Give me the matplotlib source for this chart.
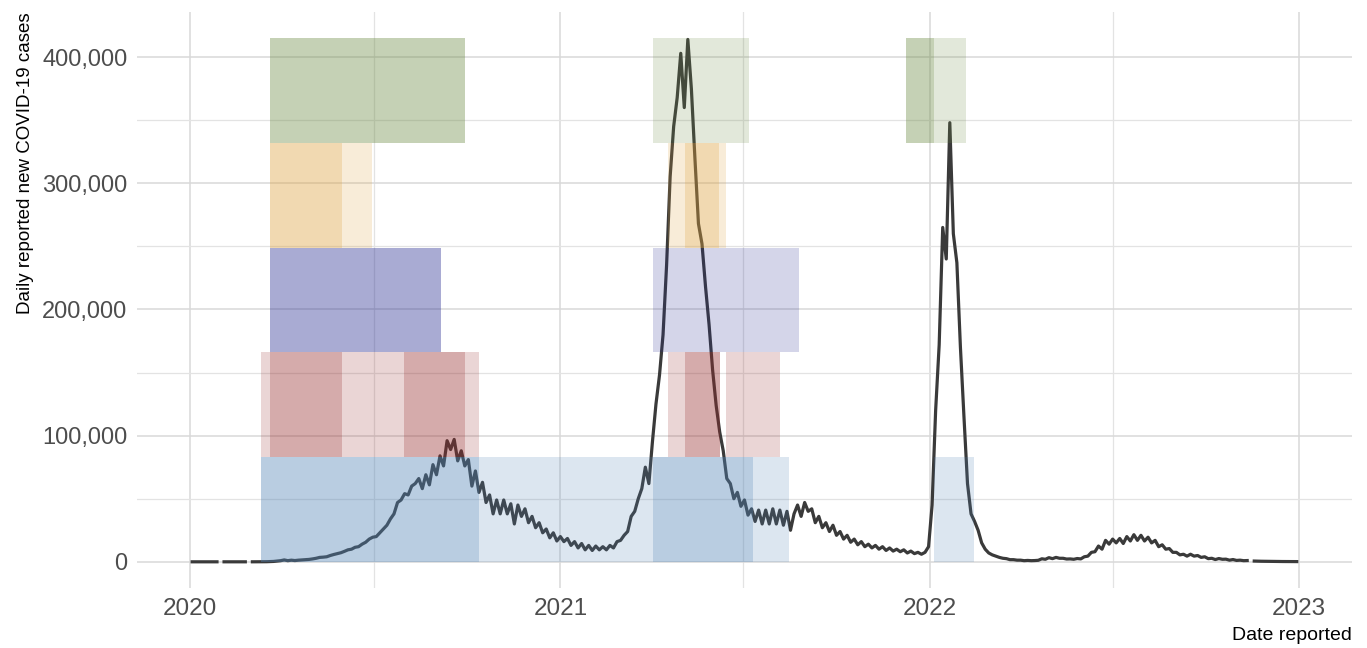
import numpy as np
import pandas as pd
import matplotlib
matplotlib.use("Agg")
import matplotlib.pyplot as plt
import matplotlib.dates as mdates
from matplotlib.ticker import FuncFormatter, MultipleLocator

# ---------------- data ----------------
start_date = "2020-01-03"
step = "84h"  # semi-weekly readings

cases = [
    0, 0, 0, 0, 0, 0, 0, 0, np.nan,
    0, 0, 0, 0, 0, 0, 0, np.nan,
    5, 10, 20, 50, 80, 150, 300, 600, 900, 1500,
    900, 1300, 1000, 1300, 1500, 1700, 1900, 2300, 2800, 3500,
    3700, 4000, 5000, 5800, 6500, 7200, 8300, 9500, 10000, 11500,
    12000, 14000, 15500, 18000, 19500, 20000, 23000, 26000, 29000, 34000,
    38000, 47000, 49000, 54000, 53000, 60000, 62000, 66000, 58000, 69000,
    61000, 77000, 69000, 84000, 76000, 96000, 89000, 97000, 80000, 88000,
    76000, 81000, 60000, 72000, 55000, 63000, 47000, 53000, 38000, 49000,
    38000, 49000, 38000, 46000, 30000, 45000, 36000, 42000, 31000, 36000,
    27000, 31000, 23000, 26000, 19000, 23000, 16500, 20000, 16000, 18500,
    13000, 16000, 11000, 14500, 9500, 13000, 9000, 12500, 9500, 12000,
    9500, 13000, 11000, 16000, 17000, 21000, 24000, 36000, 40000, 50000,
    58000, 75000, 62000, 95000, 125000, 148000, 180000, 235000, 305000, 345000,
    368000, 403000, 360000, 414000, 375000, 320000, 268000, 252000, 218000, 188000,
    152000, 124000, 103000, 88000, 66000, 62000, 50000, 55000, 44000, 49000,
    37000, 42000, 32000, 41000, 30000, 41000, 30000, 42000, 30000, 41000,
    29000, 40000, 25000, 38000, 45000, 36000, 47000, 40000, 42000, 31000,
    36000, 27000, 31000, 24000, 29000, 21000, 24000, 18000, 21000, 15500,
    18000, 13500, 16000, 12000, 14000, 11000, 13000, 10000, 12000, 9000,
    11000, 8500, 10000, 8000, 9500, 7000, 8500, 6500, 7500, 6000,
    7500, 12000, 45000, 120000, 172000, 265000, 240000, 348000, 260000, 237000,
    170000, 115000, 62000, 38000, 32000, 25000, 15000, 10000, 7000, 5500,
    4500, 3500, 2800, 2500, 1700, 1700, 1300, 1300, 900, 1100,
    900, 1000, 1200, 2400, 2000, 3300, 2500, 3500, 2800, 2800,
    2200, 2300, 2000, 2600, 2300, 4000, 4500, 7500, 8000, 12500,
    10000, 17000, 14000, 18000, 15000, 18500, 14500, 20000, 16500, 21500,
    17000, 21000, 16500, 19500, 15000, 17000, 12000, 13500, 10000, 10500,
    7500, 7500, 5500, 6000, 4500, 6000, 4500, 5000, 3500, 4000,
    2500, 2800, 1800, 2600, 2000, 2100, 1300, 1800, 1100, 1300,
    900, 1000, np.nan, 600, 500, 450, 400, 350, 300, 280,
    250, 230, 200, 200, 180, 170,
]

# policy bands: row (0 bottom .. 4 top), start, end, intensity level (1 light, 2 strong)
band_row = [0, 0, 0, 0, 0, 0,
            1, 1, 1, 1, 1, 1, 1, 1,
            2, 2,
            3, 3, 3, 3, 3,
            4, 4, 4, 4]
band_start = ["2020-03-11", "2020-10-13", "2021-04-03", "2021-07-10", "2022-01-05", "2020-12-31",
              "2020-03-11", "2020-03-20", "2020-05-30", "2020-07-30", "2020-09-29",
              "2021-04-17", "2021-05-04", "2021-06-14",
              "2020-03-20", "2021-04-03",
              "2020-03-20", "2020-05-30", "2021-04-17", "2021-05-04", "2021-06-07",
              "2020-03-20", "2021-04-03", "2021-12-09", "2022-01-05"]
band_end = ["2020-10-13", "2020-12-31", "2021-07-10", "2021-08-15", "2022-02-14", "2021-04-03",
            "2020-03-20", "2020-05-30", "2020-07-30", "2020-09-29", "2020-10-13",
            "2021-05-04", "2021-06-08", "2021-08-06",
            "2020-09-05", "2021-08-25",
            "2020-05-30", "2020-06-29", "2021-05-04", "2021-06-07", "2021-06-14",
            "2020-09-29", "2021-07-06", "2022-01-05", "2022-02-06"]
band_level = [2, 1, 2, 1, 1, 1,
              1, 2, 1, 2, 1,
              1, 2, 1,
              2, 1,
              2, 1, 1, 2, 1,
              2, 1, 2, 1]
row_colors = ["#5082b4", "#962d2d", "#282d91", "#dca03c", "#6e8c46"]
band_top = 415000
level_alpha = {1: 0.2, 2: 0.4}

# ---------------- plot ----------------
plt.rcParams["font.family"] = ["Liberation Sans", "DejaVu Sans"]

dates = pd.date_range(start_date, periods=len(cases), freq=step)
y = np.array(cases, dtype=float)

fig = plt.figure(figsize=(13.67, 6.48), dpi=100)
ax = fig.add_axes([0.1002, 0.0926, 0.8888, 0.8889])

ax.plot(dates, y, color="#3a3a3a", lw=2.3, zorder=2, solid_joinstyle="round")

row_h = band_top / 5
for r, s, e, lv in zip(band_row, band_start, band_end, band_level):
    xs = [pd.Timestamp(s), pd.Timestamp(e)]
    ax.fill_between(xs, r * row_h, (r + 1) * row_h, color=row_colors[r],
                    alpha=level_alpha[lv], lw=0, zorder=3)

# limits with 5% expansion like ggplot
x0, x1 = dates[0], dates[-1]
pad = (x1 - x0) * 0.05
ax.set_xlim(x0 - pad, x1 + pad)
ymax = max(band_top, np.nanmax(y))
ax.set_ylim(-0.05 * ymax, ymax * 1.05)

ax.xaxis.set_major_locator(mdates.YearLocator())
ax.xaxis.set_major_formatter(mdates.DateFormatter("%Y"))
ax.xaxis.set_minor_locator(mdates.MonthLocator(bymonth=[7]))
ax.yaxis.set_major_locator(MultipleLocator(100000))
ax.yaxis.set_minor_locator(MultipleLocator(50000))
ax.yaxis.set_major_formatter(FuncFormatter(lambda v, p: f"{int(round(v)):,}"))

ax.grid(which="major", color="#d9d9d9", lw=1.1, zorder=0)
ax.grid(which="minor", color="#e3e3e3", lw=0.9, zorder=0)
ax.set_axisbelow(True)
for sp in ax.spines.values():
    sp.set_visible(False)
ax.tick_params(which="both", length=0)
ax.tick_params(axis="y", labelsize=17, labelcolor="#4d4d4d", pad=7)
ax.tick_params(axis="x", labelsize=17.5, labelcolor="#4d4d4d", pad=7)

ax.set_ylabel("Daily reported new COVID-19 cases", loc="top", fontsize=13.5,
              color="black", labelpad=6)
ax.set_xlabel("Date reported", loc="right", fontsize=14, color="black", labelpad=5)

fig.savefig("out.png", dpi=100)
